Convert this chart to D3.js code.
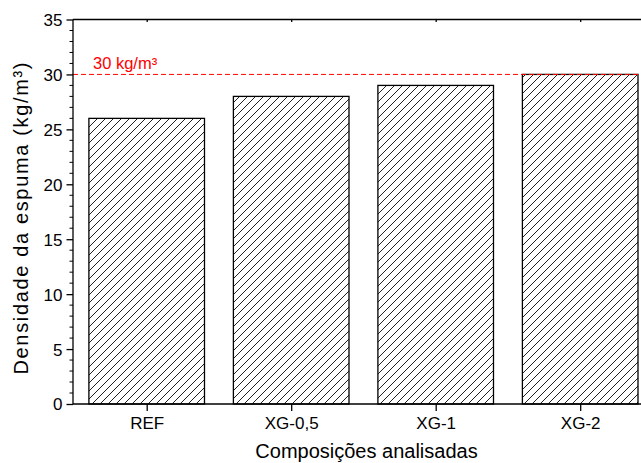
<!DOCTYPE html>
<html>
<head>
<meta charset="utf-8">
<script src="https://cdn.jsdelivr.net/npm/d3@7"></script>
<style>
  body { margin: 0; background: #fff; }
  text { font-family: "Liberation Sans", Arial, sans-serif; }
</style>
</head>
<body>
<div id="chart"></div>
<script>
const width = 641;
const height = 463;

// data
const categories = ["REF", "XG-0,5", "XG-1", "XG-2"];
const densities = [26, 28, 29, 30];
const yTicks = [0, 5, 10, 15, 20, 25, 30, 35];
const limitValue = 30;
const limitLabel = "30 kg/m³";

const plot = { left: 73, top: 19.5, bottom: 404 };
const step = 144.5;

const svg = d3.select("#chart").append("svg")
    .attr("width", width)
    .attr("height", height);

const defs = svg.append("defs");
const pat = defs.append("pattern")
    .attr("id", "hatch")
    .attr("patternUnits", "userSpaceOnUse")
    .attr("width", 8)
    .attr("height", 8);
pat.append("path")
    .attr("d", "M-2,2 l4,-4 M0,8 l8,-8 M6,10 l4,-4")
    .attr("stroke", "#222")
    .attr("stroke-width", 1);

// x as linear index scale so the frame can run off the right edge like the original
const x = d3.scaleLinear()
    .domain([-0.51, 3.51])
    .range([plot.left, plot.left + 4.02 * step]);

const y = d3.scaleLinear()
    .domain([0, 35])
    .range([plot.bottom, plot.top]);

const barW = step * 0.8;

// bars
svg.append("g")
    .selectAll("rect")
    .data(densities)
    .enter().append("rect")
    .attr("x", (d, i) => x(i) - barW / 2)
    .attr("y", d => y(d))
    .attr("width", barW)
    .attr("height", d => y(0) - y(d))
    .attr("fill", "url(#hatch)")
    .attr("stroke", "#000")
    .attr("stroke-width", 1.3);

// reference line
svg.append("line")
    .attr("x1", x.range()[0])
    .attr("x2", x.range()[1])
    .attr("y1", y(limitValue))
    .attr("y2", y(limitValue))
    .attr("stroke", "#ff0000")
    .attr("stroke-width", 1)
    .attr("stroke-dasharray", "5,3");

svg.append("text")
    .attr("x", 93)
    .attr("y", y(limitValue) - 5.5)
    .attr("fill", "#ff0000")
    .style("font-size", "16.5px")
    .text(limitLabel);

// left axis
const yAxis = d3.axisLeft(y)
    .tickValues(yTicks)
    .tickSize(6.5)
    .tickPadding(4);
const gy = svg.append("g")
    .attr("transform", `translate(${plot.left},0)`)
    .call(yAxis);
gy.select(".domain").attr("stroke-width", 1.3).attr("d", `M0,${plot.bottom}V${plot.top}`);
gy.selectAll(".tick line").attr("stroke-width", 1.3);
gy.selectAll(".tick text").style("font-size", "17px").attr("dy", "0.35em");

// minor ticks
const minor = d3.range(0, 36).filter(v => v % 5 !== 0);
svg.append("g")
    .selectAll("line")
    .data(minor)
    .enter().append("line")
    .attr("x1", plot.left - 3.5)
    .attr("x2", plot.left)
    .attr("y1", d => y(d))
    .attr("y2", d => y(d))
    .attr("stroke", "#000")
    .attr("stroke-width", 1);

// bottom axis
const xAxis = d3.axisBottom(x)
    .tickValues(d3.range(categories.length))
    .tickFormat(i => categories[i])
    .tickSize(7)
    .tickPadding(6);
const gx = svg.append("g")
    .attr("transform", `translate(0,${plot.bottom})`)
    .call(xAxis);
gx.select(".domain").attr("stroke-width", 1.3).attr("d", `M${x.range()[0]},0H${x.range()[1]}`);
gx.selectAll(".tick line").attr("stroke-width", 1.3);
gx.selectAll(".tick text").style("font-size", "17px");

// top axis (no labels, short inward ticks)
const xTop = d3.axisTop(x)
    .tickValues(d3.range(categories.length))
    .tickFormat("")
    .tickSize(-2.5);
const gt = svg.append("g")
    .attr("transform", `translate(0,${plot.top})`)
    .call(xTop);
gt.select(".domain").attr("stroke-width", 1.3).attr("d", `M${x.range()[0]},0H${x.range()[1]}`);
gt.selectAll(".tick line").attr("stroke-width", 1.3);

// axis titles
svg.append("text")
    .attr("x", 366.5)
    .attr("y", 458)
    .attr("text-anchor", "middle")
    .style("font-size", "20px")
    .text("Composições analisadas");

svg.append("text")
    .attr("transform", `translate(28,218.5) rotate(-90)`)
    .attr("text-anchor", "middle")
    .style("font-size", "20px")
    .attr("textLength", 312)
    .attr("lengthAdjust", "spacing")
    .text("Densidade da espuma (kg/m³)");
</script>
</body>
</html>
